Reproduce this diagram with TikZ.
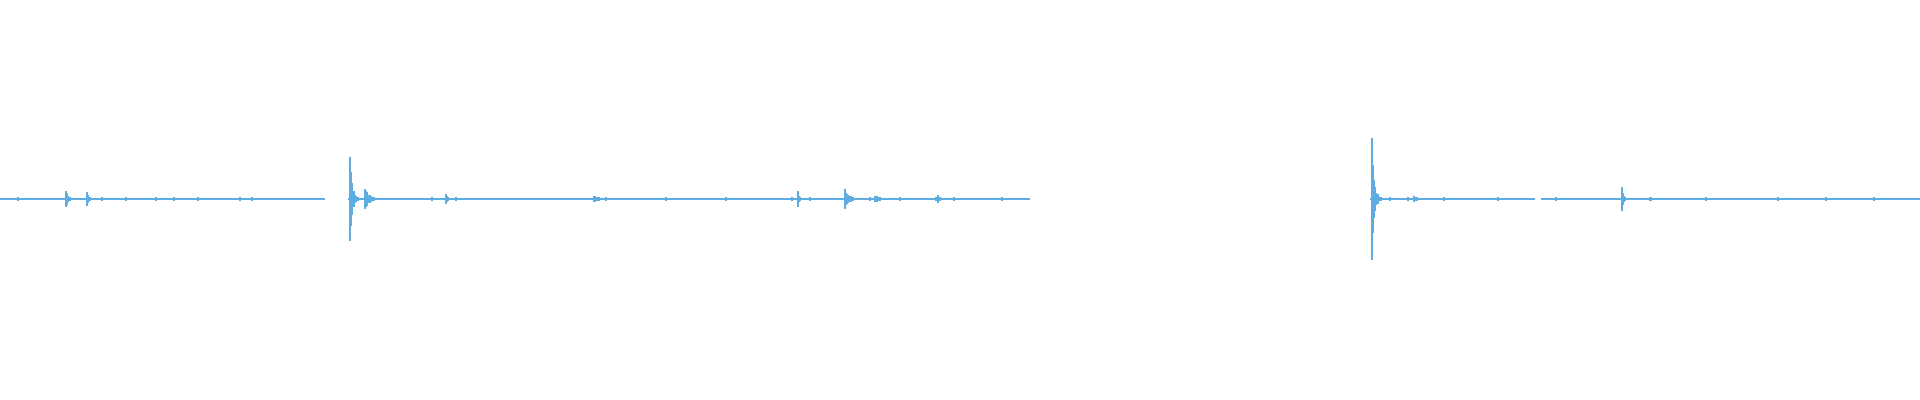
\documentclass[tikz,border=0pt]{standalone}
\definecolor{wave}{HTML}{5DADE2}
\tikzset{
	baseline/.style = {draw=wave, line width=0.8pt},
	spike/.style    = {draw=wave, line width=0.6pt}
}
% burst: x position, amplitude, decay length (px)
\newcommand{\burst}[3]{%
	\draw[spike] (#1,199-#2) -- (#1,199+#2);
	\foreach \i in {1,...,40}{
		\pgfmathsetmacro{\a}{#2*exp(-\i/#3)*(0.3+0.7*rnd)+0.6}
		\draw[spike] (#1+\i*0.8,199-\a) -- (#1+\i*0.8,199+\a);
	}
}
\begin{document}
\begin{tikzpicture}[x=0.01cm, y=-0.01cm]
	\useasboundingbox (0,0) rectangle (1920,400);
	\pgfmathsetseed{7}
	% silent line
	\draw[baseline] (0,199) -- (325,199);
	\draw[baseline] (348,199) -- (1030,199);
	\draw[baseline] (1370,199) -- (1535,199);
	\draw[baseline] (1541,199) -- (1920,199);
	% noise along the line
	\foreach \x in {0,6,...,320,354,360,...,1026,1372,1378,...,1532,1544,1550,...,1916}{
		\pgfmathsetmacro{\a}{0.6+1.6*rnd*rnd}
		\draw[spike] (\x,199-\a) -- (\x,199+\a);
	}
	% bursts
	\burst{66}{8}{3}
	\burst{87}{7}{3}
	\burst{350}{42}{3}
	\burst{365}{10}{6}
	\burst{446}{5}{3}
	\burst{594}{3}{8}
	\burst{798}{8}{2}
	\burst{845}{10}{5}
	\burst{875}{3}{8}
	\burst{938}{4}{3}
	\burst{1372}{61}{3}
	\burst{1414}{3}{5}
	\burst{1622}{12}{2}
	\burst{1650}{2}{5}
\end{tikzpicture}
\end{document}
